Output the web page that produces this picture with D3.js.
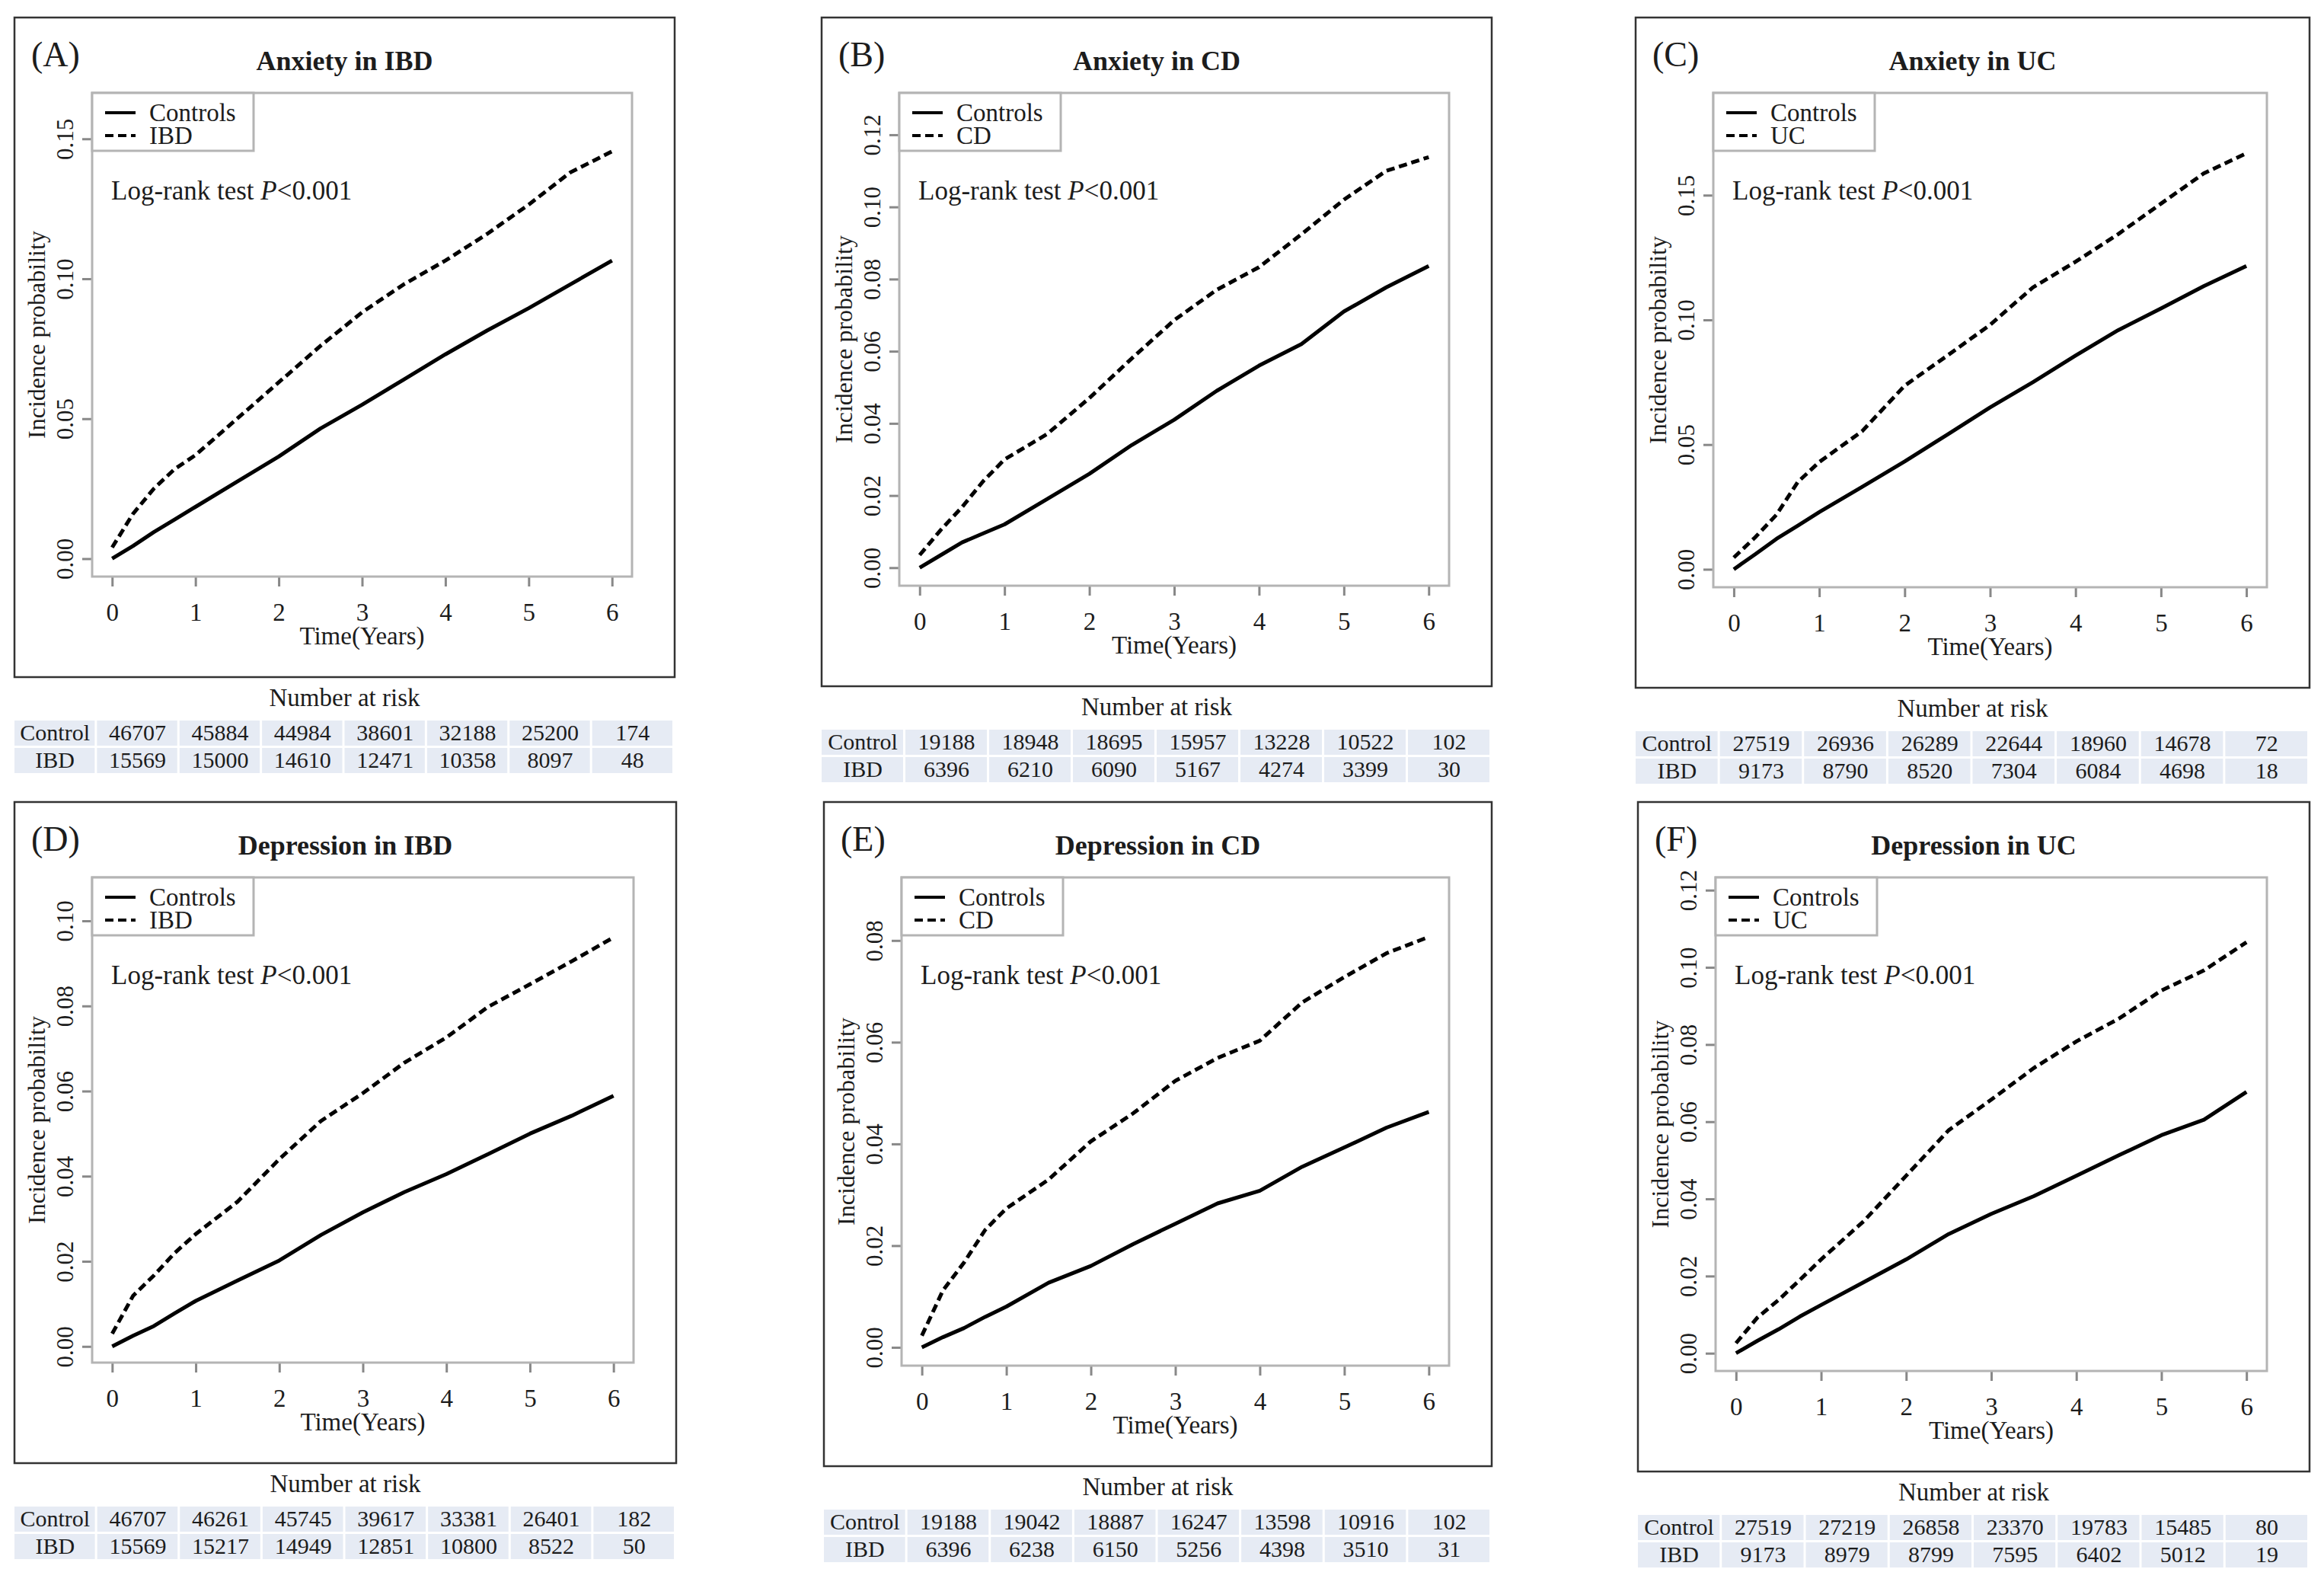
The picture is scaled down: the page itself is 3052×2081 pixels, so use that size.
<!DOCTYPE html>
<html>
<head>
<meta charset="utf-8">
<script src="https://cdn.jsdelivr.net/npm/d3@7"></script>
<style>
  body { margin: 0; background: #fff; }
  svg { display: block; }
  svg text { font-family: "Liberation Serif", "DejaVu Serif", serif; }
</style>
</head>
<body>
<svg id="canvas" width="3052" height="2081"></svg>
<script>
// time grid (years) shared by all curves
const timeYears = [0, 0.25, 0.5, 0.75, 1, 1.5, 2, 2.5, 3, 3.5, 4, 4.5, 5, 5.5, 6]

// cumulative incidence
const anxIbdControls = [0, 0.0045, 0.0095, 0.014, 0.0185, 0.0275, 0.0365, 0.0465, 0.055, 0.064, 0.073, 0.0815, 0.0895, 0.098, 0.1065]
const anxIbdCases    = [0.004, 0.016, 0.025, 0.032, 0.037, 0.050, 0.063, 0.076, 0.088, 0.098, 0.1065, 0.116, 0.1265, 0.138, 0.1455]
const anxCdControls  = [0, 0.0035, 0.007, 0.0095, 0.012, 0.019, 0.026, 0.034, 0.041, 0.049, 0.056, 0.062, 0.071, 0.0777, 0.0836]
const anxCdCases     = [0.0035, 0.0105, 0.0168, 0.024, 0.030, 0.037, 0.047, 0.058, 0.0686, 0.077, 0.0833, 0.0924, 0.102, 0.110, 0.1138]
const anxUcControls  = [0, 0.006, 0.0122, 0.0175, 0.0229, 0.033, 0.0432, 0.054, 0.0649, 0.075, 0.0857, 0.0959, 0.1046, 0.1135, 0.1216]
const anxUcCases     = [0.0047, 0.0128, 0.0219, 0.035, 0.043, 0.0553, 0.0736, 0.0857, 0.098, 0.113, 0.1233, 0.1344, 0.1466, 0.1587, 0.1668]
const depIbdControls = [0, 0.0025, 0.0048, 0.0078, 0.0107, 0.0155, 0.0202, 0.0262, 0.0315, 0.0363, 0.0405, 0.0452, 0.05, 0.0542, 0.0589]
const depIbdCases    = [0.003, 0.0119, 0.0167, 0.022, 0.0264, 0.034, 0.044, 0.053, 0.0595, 0.0667, 0.0726, 0.0798, 0.0851, 0.0905, 0.0961]
const depCdControls  = [0, 0.002, 0.0038, 0.006, 0.008, 0.0127, 0.016, 0.0203, 0.0243, 0.0283, 0.0308, 0.0355, 0.0393, 0.0432, 0.0463]
const depCdCases     = [0.0023, 0.0112, 0.0167, 0.0231, 0.0273, 0.033, 0.0405, 0.046, 0.0524, 0.0569, 0.0603, 0.0678, 0.0728, 0.0775, 0.0807]
const depUcControls  = [0, 0.0032, 0.0062, 0.0095, 0.0125, 0.0184, 0.0243, 0.0309, 0.0361, 0.0407, 0.046, 0.0513, 0.0565, 0.0605, 0.0677]
const depUcCases     = [0.0026, 0.0092, 0.0138, 0.019, 0.0243, 0.0342, 0.046, 0.0578, 0.0657, 0.0739, 0.0808, 0.0867, 0.094, 0.0992, 0.1065]

// number at risk tables
const riskAnxIbdControl = [46707, 45884, 44984, 38601, 32188, 25200, 174]
const riskAnxIbdCase    = [15569, 15000, 14610, 12471, 10358, 8097, 48]
const riskAnxCdControl  = [19188, 18948, 18695, 15957, 13228, 10522, 102]
const riskAnxCdCase     = [6396, 6210, 6090, 5167, 4274, 3399, 30]
const riskAnxUcControl  = [27519, 26936, 26289, 22644, 18960, 14678, 72]
const riskAnxUcCase     = [9173, 8790, 8520, 7304, 6084, 4698, 18]
const riskDepIbdControl = [46707, 46261, 45745, 39617, 33381, 26401, 182]
const riskDepIbdCase    = [15569, 15217, 14949, 12851, 10800, 8522, 50]
const riskDepCdControl  = [19188, 19042, 18887, 16247, 13598, 10916, 102]
const riskDepCdCase     = [6396, 6238, 6150, 5256, 4398, 3510, 31]
const riskDepUcControl  = [27519, 27219, 26858, 23370, 19783, 15485, 80]
const riskDepUcCase     = [9173, 8979, 8799, 7595, 6402, 5012, 19]

const xTicks = [0, 1, 2, 3, 4, 5, 6]
const yTicks005 = [0, 0.05, 0.10, 0.15]

const panels = [
  { tag: "(A)", title: "Anxiety in IBD", group: "IBD", ctrl: anxIbdControls, cases: anxIbdCases,
    yDomain: [-0.0064, 0.1664], yTicks: yTicks005, riskC: riskAnxIbdControl, riskI: riskAnxIbdCase,
    box: { x: 19, y: 23, w: 867, h: 866 } },
  { tag: "(B)", title: "Anxiety in CD", group: "CD", ctrl: anxCdControls, cases: anxCdCases,
    yDomain: [-0.005, 0.1316], yTicks: [0, 0.02, 0.04, 0.06, 0.08, 0.10, 0.12], riskC: riskAnxCdControl, riskI: riskAnxCdCase,
    box: { x: 1079, y: 23, w: 880, h: 878 } },
  { tag: "(C)", title: "Anxiety in UC", group: "UC", ctrl: anxUcControls, cases: anxUcCases,
    yDomain: [-0.0072, 0.191], yTicks: yTicks005, riskC: riskAnxUcControl, riskI: riskAnxUcCase,
    box: { x: 2148, y: 23, w: 885, h: 880 } },
  { tag: "(D)", title: "Depression in IBD", group: "IBD", ctrl: depIbdControls, cases: depIbdCases,
    yDomain: [-0.0038, 0.1102], yTicks: [0, 0.02, 0.04, 0.06, 0.08, 0.10], riskC: riskDepIbdControl, riskI: riskDepIbdCase,
    box: { x: 19, y: 1053, w: 869, h: 868 } },
  { tag: "(E)", title: "Depression in CD", group: "CD", ctrl: depCdControls, cases: depCdCases,
    yDomain: [-0.0036, 0.0924], yTicks: [0, 0.02, 0.04, 0.06, 0.08], riskC: riskDepCdControl, riskI: riskDepCdCase,
    box: { x: 1082, y: 1053, w: 877, h: 872 } },
  { tag: "(F)", title: "Depression in UC", group: "UC", ctrl: depUcControls, cases: depUcCases,
    yDomain: [-0.0046, 0.1233], yTicks: [0, 0.02, 0.04, 0.06, 0.08, 0.10, 0.12], riskC: riskDepUcControl, riskI: riskDepUcCase,
    box: { x: 2151, y: 1053, w: 882, h: 879 } }
]

const canvas = d3.select("#canvas")
canvas.append("rect").attr("width", 3052).attr("height", 2081).attr("fill", "#fff")

const margin = { left: 102, top: 99, right: 56, bottom: 132 }
const ink = "#1c1c1c"
const frameGray = "#b4b4b4"
const serif = "Liberation Serif"

const drawPanel = (p) => {
  const b = p.box
  const g = canvas.append("g").attr("transform", "translate(" + b.x + "," + b.y + ")")

  // outer frame
  g.append("rect").attr("width", b.w).attr("height", b.h)
   .attr("fill", "none").attr("stroke", "#333").attr("stroke-width", 2.5)

  g.append("text").text(p.tag).attr("x", 22).attr("y", 64)
   .attr("font-size", 46).attr("fill", ink)
  g.append("text").text(p.title).attr("x", b.w / 2).attr("y", 69)
   .attr("text-anchor", "middle").attr("font-size", 36).attr("font-weight", "bold").attr("fill", ink)

  const pw = b.w - margin.left - margin.right
  const ph = b.h - margin.top - margin.bottom
  const plot = g.append("g").attr("transform", "translate(" + margin.left + "," + margin.top + ")")

  const x = d3.scaleLinear().domain([-0.24, 6.24]).range([0, pw])
  const y = d3.scaleLinear().domain(p.yDomain).range([ph, 0])

  // x axis
  const xa = plot.append("g").attr("transform", "translate(0," + ph + ")")
    .call(d3.axisBottom(x).tickValues(xTicks).tickSize(13).tickFormat(d3.format("d")))
  xa.attr("font-family", serif)
  xa.select(".domain").remove()
  xa.selectAll("line").attr("stroke", "#888").attr("stroke-width", 3)
  xa.selectAll("text").attr("y", 58).attr("dy", 0).attr("font-size", 33).attr("fill", ink)

  // y axis
  const ya = plot.append("g").call(d3.axisLeft(y).tickValues(p.yTicks).tickSize(13).tickFormat(d3.format(".2f")))
  ya.attr("font-family", serif)
  ya.select(".domain").remove()
  ya.selectAll("line").attr("stroke", "#888").attr("stroke-width", 3)
  ya.selectAll("text").attr("x", 0).attr("dy", "0.35em").attr("text-anchor", "middle")
    .attr("transform", "translate(-36,0) rotate(-90)").attr("font-size", 31).attr("fill", ink)

  // plot frame
  plot.append("rect").attr("width", pw).attr("height", ph)
    .attr("fill", "none").attr("stroke", frameGray).attr("stroke-width", 3)

  // axis titles
  plot.append("text").text("Time(Years)").attr("x", x(3)).attr("y", ph + 89)
    .attr("text-anchor", "middle").attr("font-size", 33).attr("fill", ink)
  plot.append("text").text("Incidence probability")
    .attr("transform", "translate(-62," + (ph / 2) + ") rotate(-90)")
    .attr("text-anchor", "middle").attr("font-size", 32).attr("fill", ink)

  // curves
  const line = d3.line().x((d, i) => x(timeYears[i])).y(d => y(d))
  plot.append("path").datum(p.ctrl).attr("d", line)
    .attr("fill", "none").attr("stroke", "#000").attr("stroke-width", 5).attr("stroke-linejoin", "round")
  plot.append("path").datum(p.cases).attr("d", line)
    .attr("fill", "none").attr("stroke", "#000").attr("stroke-width", 5).attr("stroke-dasharray", "11,6")

  // legend
  const lg = plot.append("g")
  lg.append("rect").attr("width", 212).attr("height", 76)
    .attr("fill", "#fff").attr("stroke", frameGray).attr("stroke-width", 3)
  const items = [["Controls", null], [p.group, "11,6"]]
  items.forEach((it, i) => {
    const ly = 26 + i * 30
    lg.append("line").attr("x1", 17).attr("x2", 57).attr("y1", ly).attr("y2", ly)
      .attr("stroke", "#000").attr("stroke-width", 4).attr("stroke-dasharray", it[1])
    lg.append("text").text(it[0]).attr("x", 75).attr("y", ly + 11)
      .attr("font-size", 33).attr("fill", ink)
  })

  // log-rank note
  const lr = plot.append("text").attr("x", 25).attr("y", 140).attr("font-size", 35).attr("fill", ink)
  lr.append("tspan").text("Log-rank test ")
  lr.append("tspan").text("P").attr("font-style", "italic")
  lr.append("tspan").text("<0.001")

  // number at risk table
  const t = g.append("g").attr("transform", "translate(0," + b.h + ")")
  t.append("text").text("Number at risk").attr("x", b.w / 2).attr("y", 38)
    .attr("text-anchor", "middle").attr("font-size", 33).attr("fill", ink)
  const colW = b.w / 8
  const rowH = 36
  const rows = [["Control"].concat(p.riskC), ["IBD"].concat(p.riskI)]
  rows.forEach((r, ri) => {
    r.forEach((v, ci) => {
      t.append("rect").attr("x", ci * colW).attr("y", 57 + ri * rowH)
        .attr("width", colW - 3).attr("height", rowH - 3).attr("fill", "#e6ebf4")
      t.append("text").text(v).attr("x", ci * colW + colW / 2 - 1).attr("y", 57 + ri * rowH + 26)
        .attr("text-anchor", "middle").attr("font-size", 30).attr("fill", ink)
    })
  })
}

panels.forEach(drawPanel)
</script>
</body>
</html>
